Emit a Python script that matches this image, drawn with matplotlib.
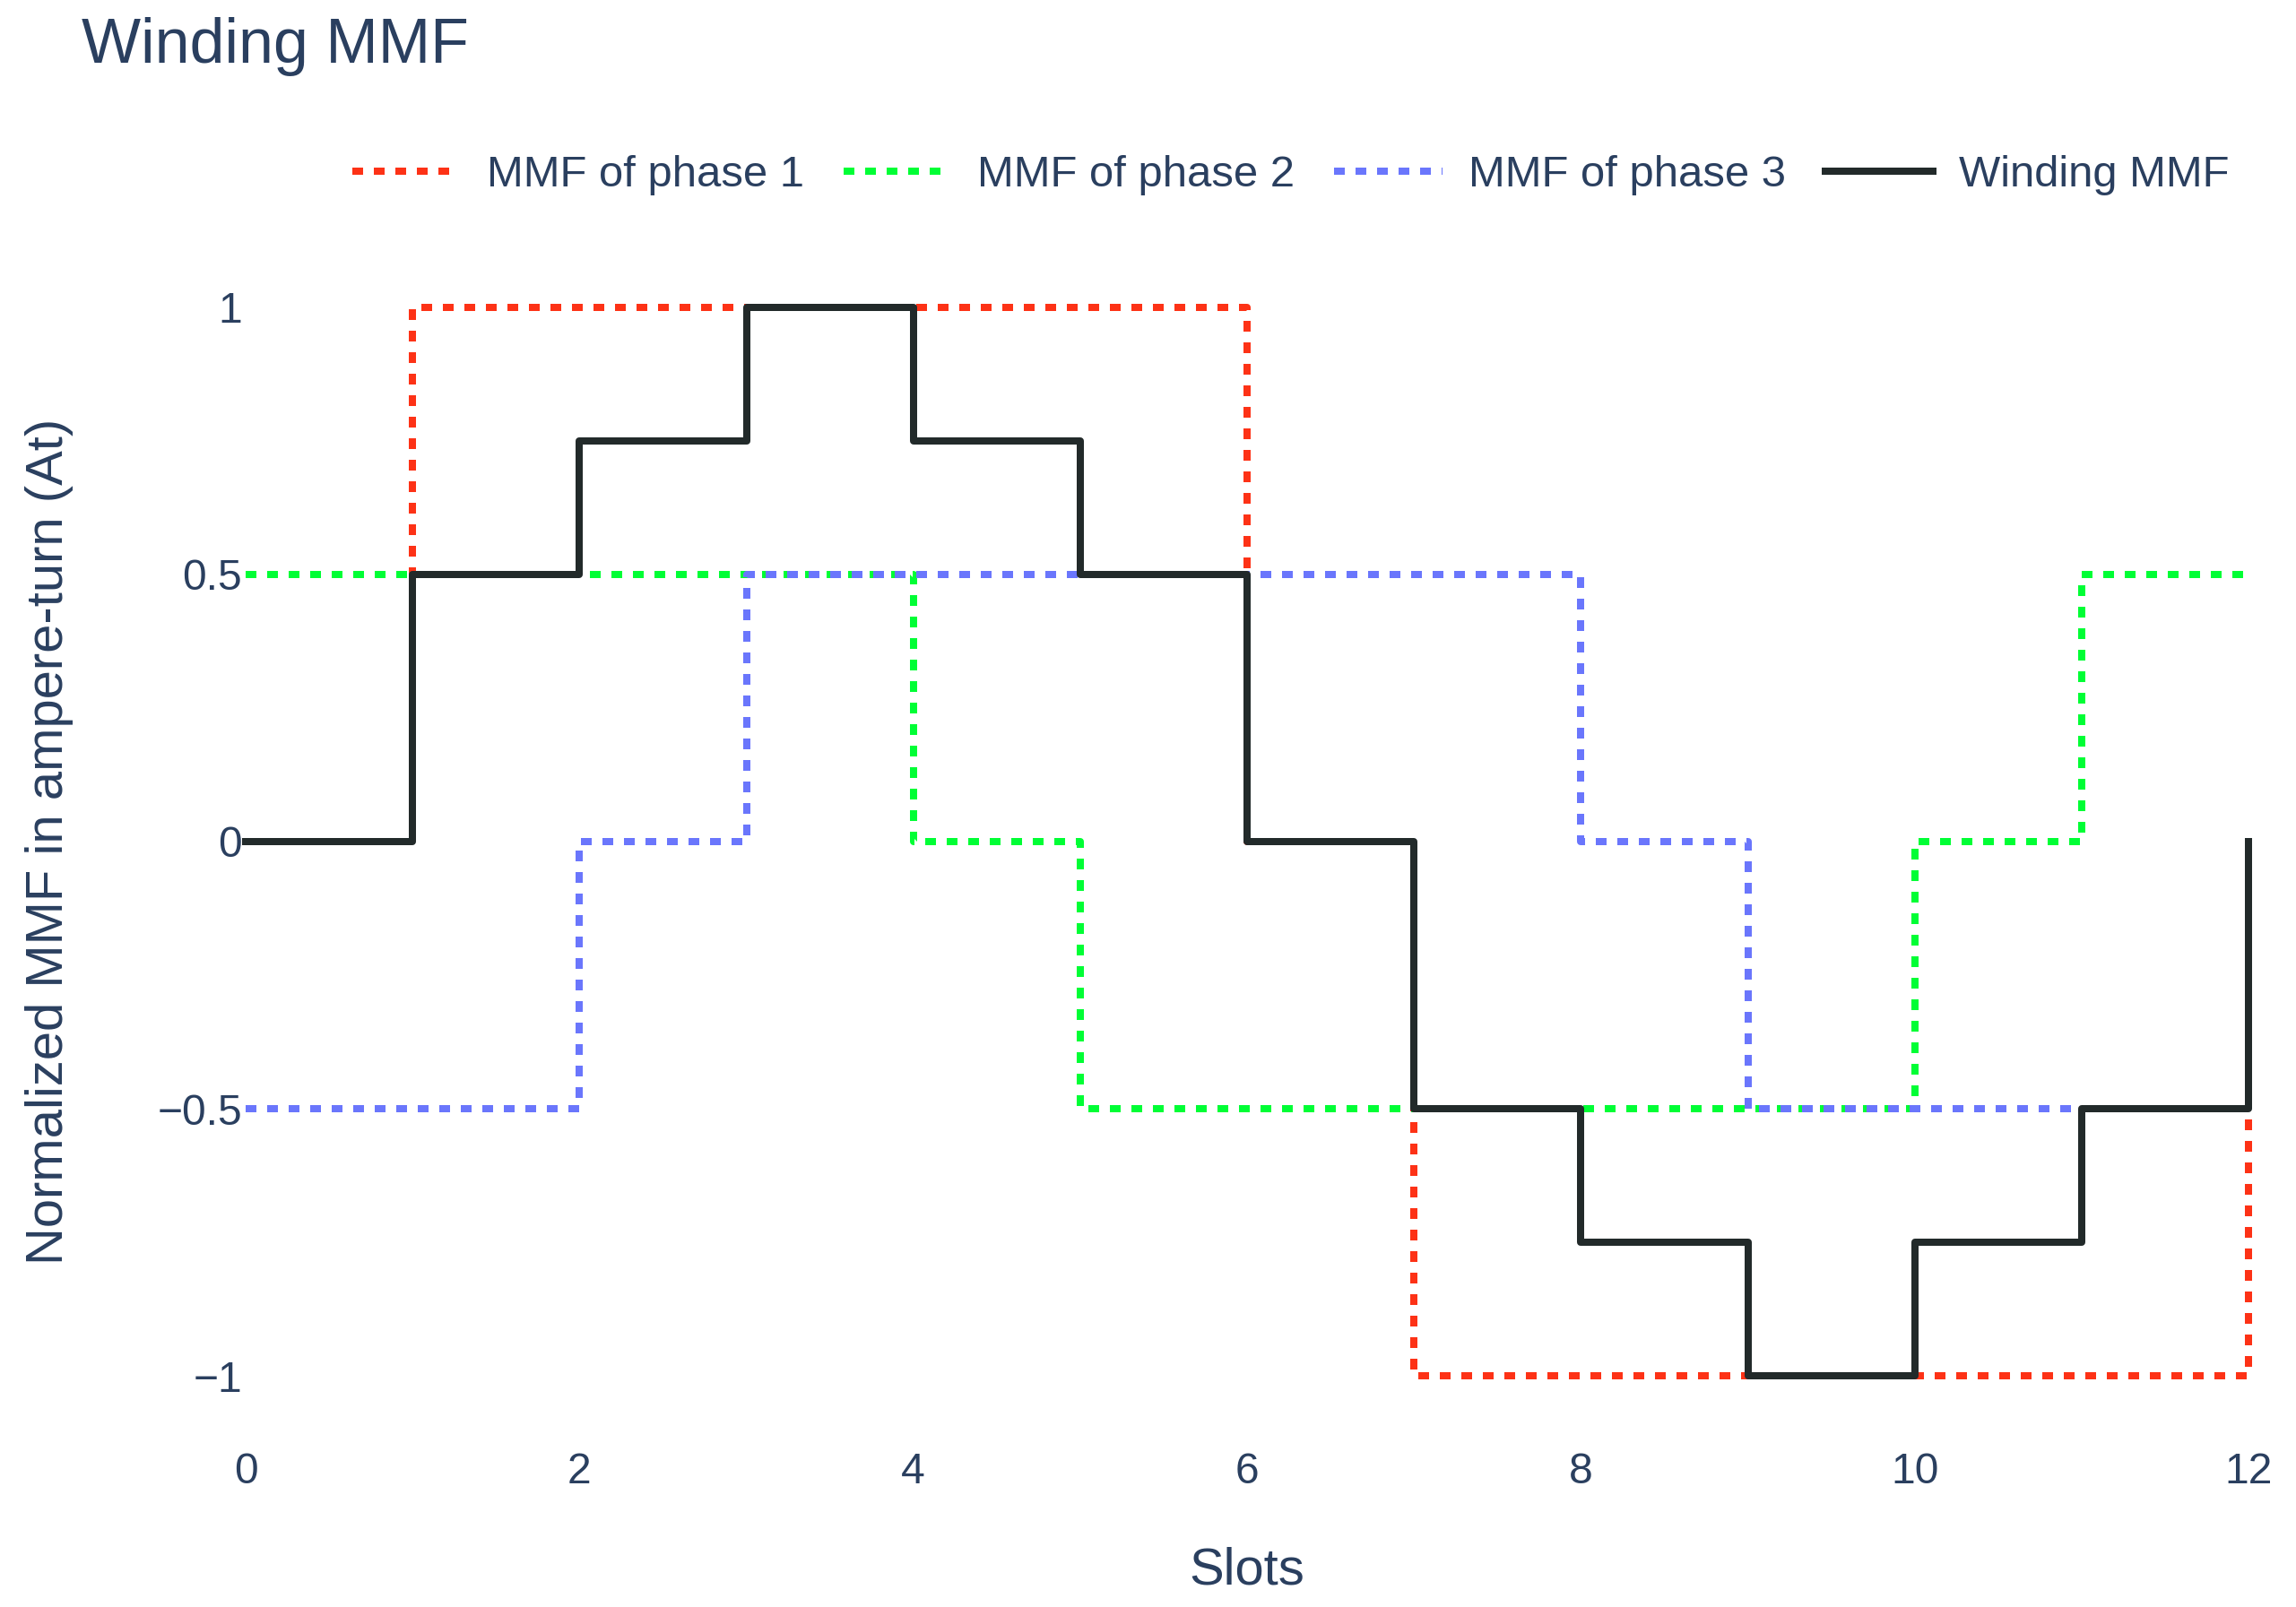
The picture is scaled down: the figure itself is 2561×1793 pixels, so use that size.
# %% Winding MMF of a 3-phase winding, per slot
import numpy as np
import matplotlib.pyplot as plt

# %% Data (value held from slot i to slot i+1)
slots = [0, 1, 2, 3, 4, 5, 6, 7, 8, 9, 10, 11, 12]
mmf_phase1 = [0, 1, 1, 1, 1, 1, 0, -1, -1, -1, -1, -1, 0]
mmf_phase2 = [0.5, 0.5, 0.5, 0.5, 0, -0.5, -0.5, -0.5, -0.5, -0.5, 0, 0.5, 0.5]
mmf_phase3 = [-0.5, -0.5, 0, 0.5, 0.5, 0.5, 0.5, 0.5, 0, -0.5, -0.5, -0.5, -0.5]
mmf_winding = [0, 0.5, 0.75, 1, 0.75, 0.5, 0, -0.5, -0.75, -1, -0.75, -0.5, 0]

series_names = ['MMF of phase 1', 'MMF of phase 2', 'MMF of phase 3', 'Winding MMF']

xticks = [0, 2, 4, 6, 8, 10, 12]
yticks = [-1, -0.5, 0, 0.5, 1]
yticklabels = ['\u22121', '\u22120.5', '0', '0.5', '1']

# %% Style
W, H, DPI = 2561, 1793, 100
px = 72.0 / DPI  # pixel -> points
textcol = '#2a3f5f'
plt.rcParams['font.family'] = ['Liberation Sans', 'DejaVu Sans']

fig = plt.figure(figsize=(W / DPI, H / DPI), dpi=DPI)
ax = fig.add_axes([274 / W, 1 - 1595 / H, (2508 - 274) / W, (1595 - 283) / H])

lw = 8 * px
common = {'drawstyle': 'steps-post', 'lw': lw, 'clip_on': False}
ax.plot(slots, mmf_phase1, color='#FD3216', dashes=(1.5, 1.5), label=series_names[0], **common)
ax.plot(slots, mmf_phase2, color='#00FE35', dashes=(1.5, 1.5), label=series_names[1], **common)
ax.plot(slots, mmf_phase3, color='#6A76FC', dashes=(1.5, 1.5), label=series_names[2], **common)
ax.plot(slots, mmf_winding, color='#222A2A', label=series_names[3], **common)

ax.set_xlim(0, 12)
ax.set_ylim(-1.1, 1.1)
ax.set_xticks(xticks)
ax.set_yticks(yticks)
ax.set_yticklabels(yticklabels)

for s in ax.spines.values():
    s.set_visible(False)
ax.tick_params(axis='both', length=0, labelsize=48 * px, labelcolor=textcol)
ax.tick_params(axis='x', pad=25 * px)
ax.tick_params(axis='y', pad=4 * px)

# %% Texts
fig.text(91 / W, 1 - 70 / H, 'Winding MMF', fontsize=70 * px, color=textcol,
         ha='left', va='baseline')
fig.text(1391 / W, 1 - 1768 / H, 'Slots', fontsize=58 * px, color=textcol,
         ha='center', va='baseline')
fig.text(70 / W, 1 - 939 / H, 'Normalized MMF in ampere-turn (At)', fontsize=58 * px,
         color=textcol, rotation=90, rotation_mode='anchor', ha='center', va='baseline')

leg = fig.legend(loc='center right', bbox_to_anchor=(2487 / W, 1 - 196 / H), ncol=4,
                 frameon=False, fontsize=49 * px, handlelength=2.45, handletextpad=0.6,
                 columnspacing=0.9, borderpad=0, borderaxespad=0)
for t in leg.get_texts():
    t.set_color(textcol)

fig.savefig('out.png', dpi=DPI, facecolor='white')
